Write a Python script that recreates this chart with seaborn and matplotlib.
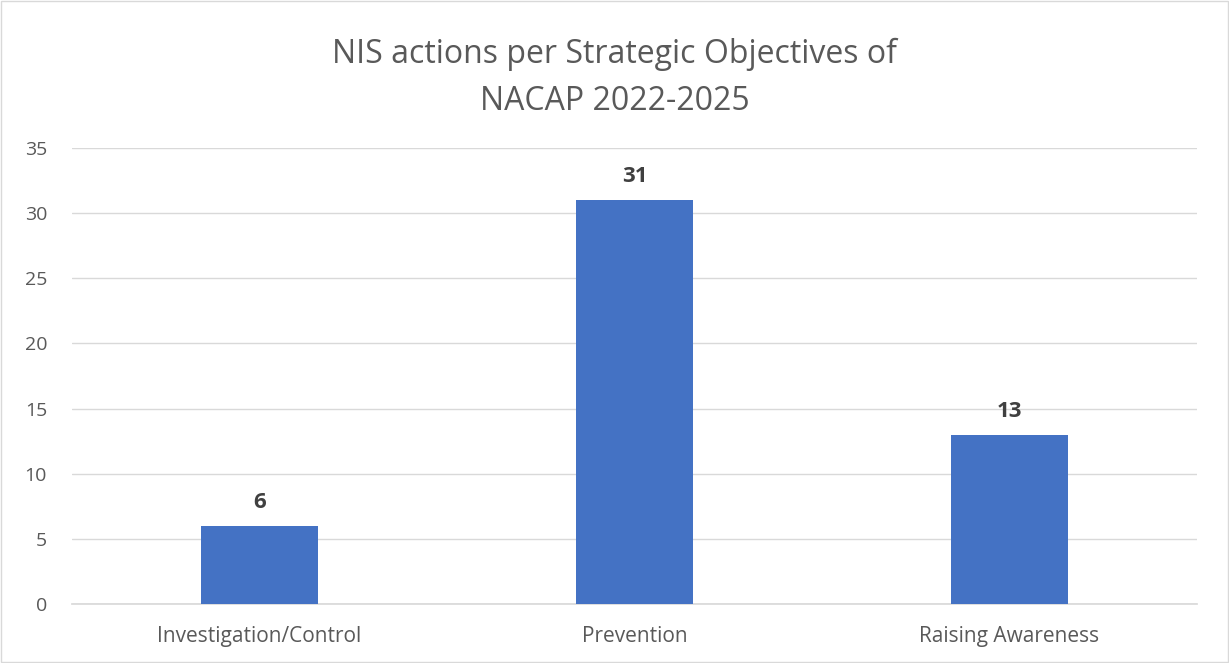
import matplotlib.pyplot as plt
import seaborn as sns
import pandas as pd

categories = ["Investigation/Control", "Prevention", "Raising Awareness"]
actions = [6, 31, 13]

sns.set_theme(style="white")
plt.rcParams['font.family'] = ['Open Sans', 'DejaVu Sans']

df = pd.DataFrame({"objective": categories, "actions": actions})

fig = plt.figure(figsize=(12.29, 6.63), dpi=100)
ax = fig.add_axes([0.0586, 0.089, 0.9154, 0.688])

sns.barplot(data=df, x="objective", y="actions", color="#4472C4", width=0.31,
            saturation=1, edgecolor="none", ax=ax, zorder=3)

ax.set_ylim(0, 35)
ax.set_yticks(range(0, 36, 5))
ax.yaxis.grid(True, color="#D9D9D9", linewidth=1)
ax.set_axisbelow(True)
for s in ["top", "right", "left"]:
    ax.spines[s].set_visible(False)
ax.spines["bottom"].set_color("#D9D9D9")
ax.tick_params(axis="both", length=0, labelsize=14, labelcolor="#595959")
ax.tick_params(axis="x", pad=16, labelsize=15)
ax.tick_params(axis="y", pad=18)
ax.set_xlabel("")
ax.set_ylabel("")

for p, v in zip(ax.patches, actions):
    ax.text(p.get_x() + p.get_width() / 2, v + 1.0, str(v), ha="center", va="bottom",
            fontsize=16, fontweight="bold", color="#404040")

fig.text(0.5, 0.882, "NIS actions per Strategic Objectives of\nNACAP 2022-2025",
         ha="center", va="center", fontsize=23, color="#595959", linespacing=1.55)

fig.patches.append(plt.Rectangle((0.001, 0.001), 0.998, 0.998, transform=fig.transFigure,
                                 fill=False, edgecolor="#D9D9D9", linewidth=1))

fig.savefig("out.png", dpi=100)
